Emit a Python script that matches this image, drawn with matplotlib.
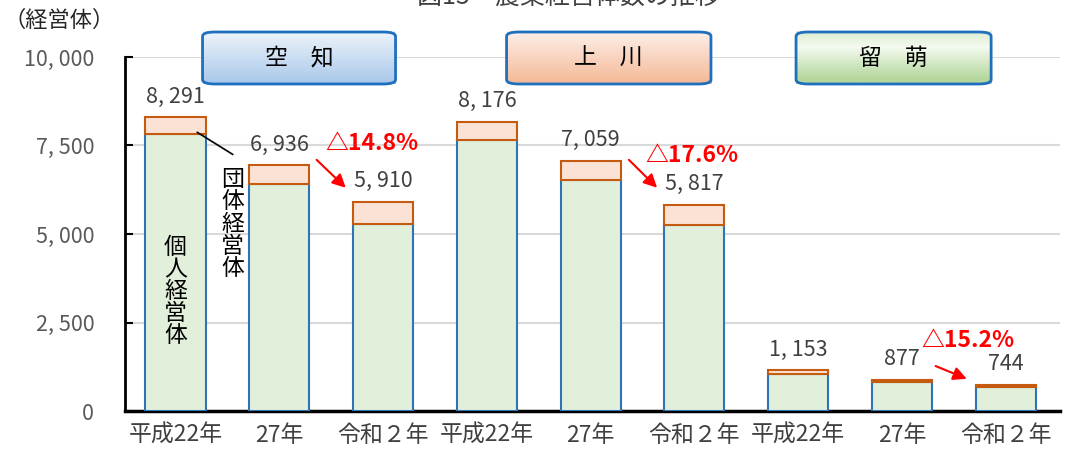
import numpy as np
import matplotlib.pyplot as plt
from matplotlib.patches import FancyBboxPatch
from matplotlib.colors import to_rgb

plt.rcParams['font.family'] = ['Noto Sans CJK JP', 'DejaVu Sans']

# data
years = ['平成22年', '27年', '令和２年'] * 3
regions = ['空　知', '上　川', '留　萌']
totals = [8291, 6936, 5910, 8176, 7059, 5817, 1153, 877, 744]
individual = [7825, 6412, 5282, 7655, 6525, 5254, 1045, 819, 678]
group = [t - i for t, i in zip(totals, individual)]
changes = ['△14.8%', '△17.6%', '△15.2%']

# styles
grad_colors = [('#eef4fb', '#a8c8ea'), ('#fdf0ea', '#f4b895'), ('#f4faf0', '#b5d79c')]
box_x = [(0.26, 2.12), (3.19, 5.16), (5.98, 7.86)]

fig = plt.figure(figsize=(10.66, 4.53), dpi=100)
ax = fig.add_axes([0.117, 0.0927, 0.877, 0.7815])

x = np.arange(len(totals))
w = 0.58
ax.bar(x, individual, width=w, color='#e2efda', edgecolor='#2e75b6', linewidth=1.5, zorder=3)
ax.bar(x, group, bottom=individual, width=w, color='#fbe2d5', edgecolor='#c55a11',
       linewidth=1.5, zorder=3)

for xi, t in zip(x, totals):
    ax.annotate(f'{t:,}'.replace(',', ', '), (xi, t), xytext=(0, 7), textcoords='offset points',
                ha='center', va='bottom', fontsize=15.5, color='#404040')

ax.set_xlim(-0.49, 8.52)
ax.set_ylim(0, 10000)
ax.set_yticks([0, 2500, 5000, 7500, 10000])
ax.set_yticklabels(['0', '2, 500', '5, 000', '7, 500', '10, 000'], fontsize=15.5, color='#595959')
ax.set_xticks(x)
ax.set_xticklabels(years, fontsize=16.5, color='#404040')
ax.tick_params(axis='y', direction='in', length=6, width=1.5, pad=22)
ax.tick_params(axis='x', length=0, pad=9)
ax.grid(axis='y', color='#d9d9d9', linewidth=1.5, zorder=0)
ax.spines['top'].set_visible(False)
ax.spines['right'].set_visible(False)
ax.spines['left'].set_linewidth(2)
ax.spines['bottom'].set_linewidth(2.5)

# region boxes with gradient
for (x0, x1), (c0, c1), name in zip(box_x, grad_colors, regions):
    y0, y1 = 9237, 10706
    patch = FancyBboxPatch((x0, y0), x1 - x0, y1 - y0,
                           boxstyle='round,pad=0,rounding_size=0.12',
                           mutation_aspect=1000,
                           facecolor='none', edgecolor='#1f6fbf', linewidth=2,
                           clip_on=False, zorder=6)
    ax.add_patch(patch)
    top = np.array(to_rgb(c0))
    bot = np.array(to_rgb(c1))
    t = np.linspace(0, 1, 64)[:, None, None]
    if name == '留　萌':
        mid = np.array(to_rgb('#dcecd0'))
        img = np.where(t < 0.3, mid + (top - mid) * (t / 0.3),
                       top + (bot - top) * np.clip((t - 0.3) / 0.6, 0, 1))
        img = img * np.ones((1, 1, 3))
    else:
        img = top + (bot - top) * t * np.ones((1, 1, 3))
    im = ax.imshow(img, extent=(x0, x1, y0, y1), aspect='auto', origin='upper',
                   zorder=5, clip_on=False)
    im.set_clip_path(patch)
    ax.text((x0 + x1) / 2, (y0 + y1) / 2, name, ha='center', va='center',
            fontsize=16.5, color='black', zorder=7, clip_on=False)

# change arrows
arrow_pts = [((1.34, 7150), (1.66, 6250)), ((4.35, 7150), (4.66, 6250)), ((7.3, 1300), (7.65, 880))]
text_pts = [(1.89, 7570), (4.98, 7230), (7.64, 2000)]
for (p0, p1), tp, s in zip(arrow_pts, text_pts, changes):
    ax.annotate('', xy=p1, xytext=p0,
                arrowprops=dict(arrowstyle='-|>,head_length=0.8,head_width=0.4',
                                color='#ff0000', lw=1.5), zorder=8)
    ax.text(tp[0], tp[1], s, color='#ff0000', fontsize=16.5, fontweight='bold',
            ha='center', va='center', zorder=8)

# series labels
ax.plot([0.21, 0.55], [7870, 7250], color='black', lw=1.2, zorder=8)
ax.text(0.55, 5280, '団\n体\n経\n営\n体', ha='center', va='center', fontsize=16.5,
        linespacing=0.95, zorder=8)
ax.text(0, 3370, '個\n人\n経\n営\n体', ha='center', va='center', fontsize=16.5,
        linespacing=0.95, zorder=8)

fig.text(0.003, 0.955, '（経営体）', fontsize=16, color='#262626', ha='left', va='center')
fig.text(0.533, 1.008, '図15　農業経営体数の推移', fontsize=18, color='#404040',
         ha='center', va='center')

fig.savefig('out.png', dpi=100)
